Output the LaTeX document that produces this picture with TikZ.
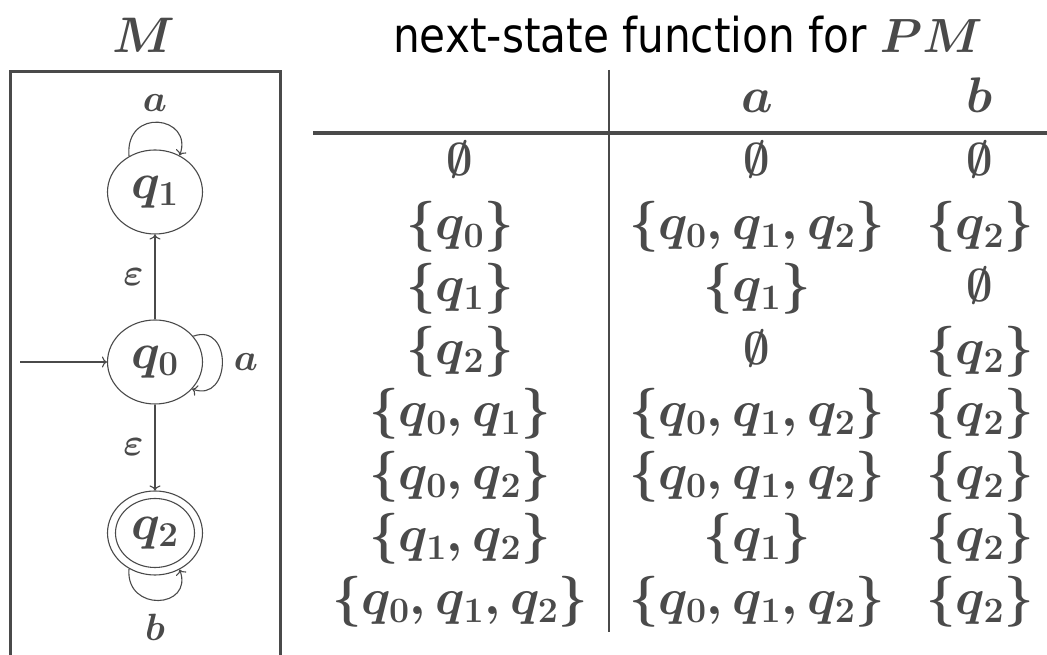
\RequirePackage{fix-cm}
\documentclass[tikz,border=0pt]{standalone}
\usepackage{amsmath,bm}
\usepackage{fontspec}
\newfontfamily\titlefont[FakeStretch=0.88]{DejaVu Sans}
\usetikzlibrary{shapes.geometric,arrows.meta}
\definecolor{ink}{RGB}{74,74,74}
\newcommand{\St}[1]{\{#1\}}
\newcommand{\Es}{{\fontsize{46}{50}\selectfont$\emptyset$}}
\begin{document}
\begin{tikzpicture}[x=1pt,y=1pt,
  state/.style={ellipse,draw=ink,line width=1.1pt,minimum width=95pt,minimum height=84pt,inner sep=0pt,text=ink,font=\fontsize{50}{56}\selectfont\boldmath},
  conn/.style={draw=ink,line width=1.1pt,-{To[length=5pt,width=11pt]}},
  lbl/.style={text=ink,font=\fontsize{38}{42}\selectfont\boldmath,inner sep=0pt},
  cell/.style={anchor=base,text=ink,font=\fontsize{51}{58}\selectfont\boldmath,inner sep=0pt},
  head/.style={anchor=base,text=ink,font=\fontsize{50}{56}\selectfont\boldmath,inner sep=0pt},
  frame/.style={draw=ink,line width=3pt}]
\useasboundingbox (0,0) rectangle (1047,655);
% automaton M
\node[head] (M) at (144,602) {$\bm{M}$};
\draw[frame] (10,-5) -- (10,583) -- (280,583) -- (280,-5);
\node[state] (q1) at (155,463) {$q_1$};
\node[state] (q0) at (155,293) {$q_0$};
\node[state] (q2) at (155,122) {$q_2$};
\draw[ink,line width=1.1pt] (q2.center) ellipse [x radius=39.5, y radius=34.5];
\coordinate (start) at (20,293);
\draw[conn] (start) -- (q0);
\draw[conn] (q0) -- node[lbl,left=11pt] {$\bm{\varepsilon}$} (q1);
\draw[conn] (q0) -- node[lbl,left=11pt] {$\bm{\varepsilon}$} (q2);
\draw[conn] (q1.126) .. controls +(95:50) and +(70:42) .. (q1.56);
\node[lbl] (la1) at (155,552) {$\bm{a}$};
\draw[conn] (q0.34) .. controls +(20:42) and +(-20:42) .. (q0.-36);
\node[lbl] (la0) at (246,293) {$\bm{a}$};
\draw[conn] (q2.234) .. controls +(265:44) and +(290:42) .. (q2.-56);
\node[lbl] (lb2) at (155,28) {$\bm{b}$};
% table
\node[anchor=base west,inner sep=0pt,font=\fontsize{48}{56}\selectfont] (title) at (393,602)
  {\titlefont next-state function for \textcolor{ink}{$\bm{PM}$}};
\coordinate (vt) at (609,585);
\coordinate (vb) at (609,23);
\draw[ink,line width=2pt] (vt) -- (vb);
\coordinate (hl) at (313,522);
\coordinate (hr) at (1047,522);
\draw[ink,line width=3.5pt] (hl) -- (hr);
\node[head] (ha) at (757,542) {$\bm{a}$};
\node[head] (hb) at (980,542) {$\bm{b}$};
\foreach \yy/\ca/\cb/\cc [count=\i] in {
  479/{\Es}/{\Es}/{\Es},
  415.5/{$\St{q_0}$}/{$\St{q_0,q_1,q_2}$}/{$\St{q_2}$},
  353/{$\St{q_1}$}/{$\St{q_1}$}/{\Es},
  290.5/{$\St{q_2}$}/{\Es}/{$\St{q_2}$},
  228/{$\St{q_0,q_1}$}/{$\St{q_0,q_1,q_2}$}/{$\St{q_2}$},
  165.5/{$\St{q_0,q_2}$}/{$\St{q_0,q_1,q_2}$}/{$\St{q_2}$},
  103/{$\St{q_1,q_2}$}/{$\St{q_1}$}/{$\St{q_2}$},
  40.5/{$\St{q_0,q_1,q_2}$}/{$\St{q_0,q_1,q_2}$}/{$\St{q_2}$}}{
  \node[cell] (r\i a) at (460,\yy) {\ca};
  \node[cell] (r\i b) at (757,\yy) {\cb};
  \node[cell] (r\i c) at (980,\yy) {\cc};
}
\end{tikzpicture}
\end{document}
